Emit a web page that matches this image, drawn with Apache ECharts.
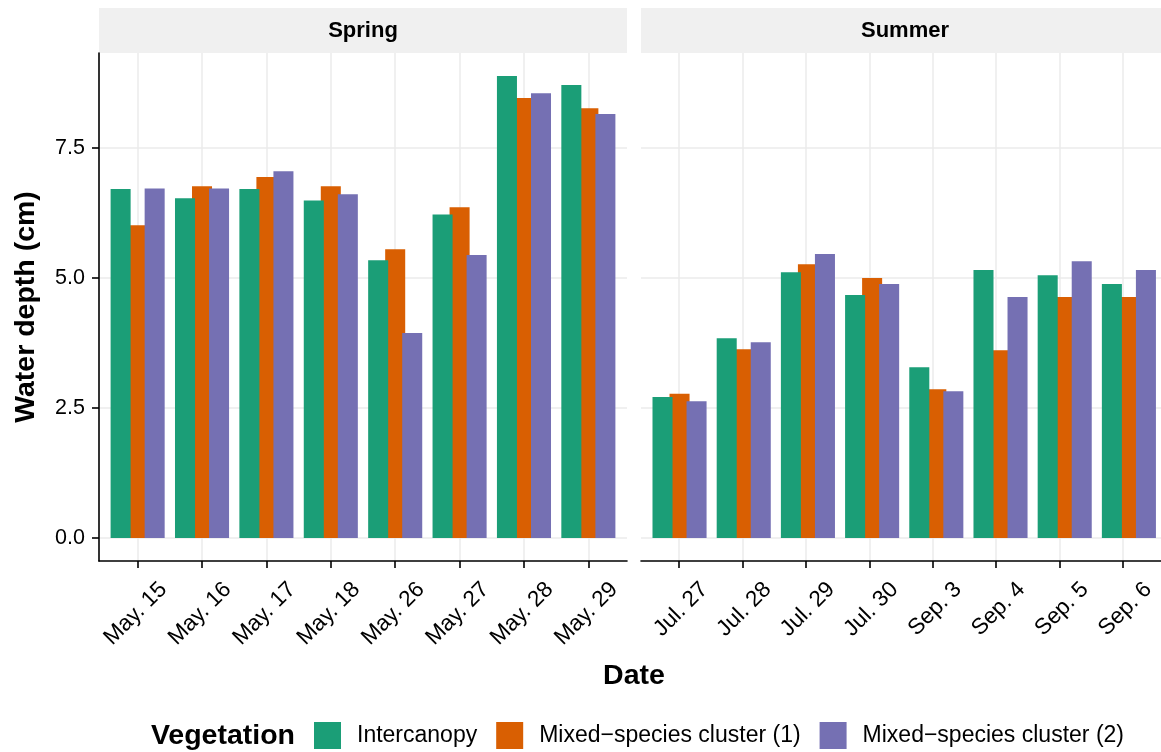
<!DOCTYPE html>
<html>
<head>
<meta charset="utf-8">
<script src="https://cdn.jsdelivr.net/npm/echarts@6/dist/echarts.min.js"></script>
<style>
  html, body { margin: 0; padding: 0; background: #ffffff; }
  #chart { width: 1161px; height: 752px; }
</style>
</head>
<body>
<div id="chart"></div>
<script>
// Sampling dates, one facet per season
const springDates = ['May. 15', 'May. 16', 'May. 17', 'May. 18', 'May. 26', 'May. 27', 'May. 28', 'May. 29'];
const summerDates = ['Jul. 27', 'Jul. 28', 'Jul. 29', 'Jul. 30', 'Sep. 3', 'Sep. 4', 'Sep. 5', 'Sep. 6'];

// Vegetation groups (legend order)
const vegetation = ['Intercanopy', 'Mixed\u2212species cluster (1)', 'Mixed\u2212species cluster (2)'];

// Water depth (cm)
const springIntercanopy = [6.71, 6.53, 6.71, 6.49, 5.34, 6.22, 8.88, 8.71];
const springCluster1    = [6.01, 6.76, 6.94, 6.76, 5.55, 6.36, 8.46, 8.26];
const springCluster2    = [6.72, 6.72, 7.05, 6.61, 3.94, 5.44, 8.55, 8.15];
const summerIntercanopy = [2.71, 3.84, 5.11, 4.67, 3.28, 5.15, 5.05, 4.88];
const summerCluster1    = [2.77, 3.63, 5.26, 5.00, 2.86, 3.61, 4.63, 4.63];
const summerCluster2    = [2.63, 3.76, 5.46, 4.88, 2.82, 4.63, 5.32, 5.15];

// Y axis tick values
const yTicks = [0, 2.5, 5, 7.5];

const colors = ['#1B9E77', '#D95F02', '#7570B3'];
const FONT = '"Liberation Sans", Arial, Helvetica, sans-serif';
const TEXT = '#000000';
const GRID_COLOR = '#EBEBEB';

// Panel geometry
const panelTop = 53;
const panelHeight = 508;
const panelWidth = 528;
const stripTop = 8;
const stripHeight = 45;
const panelLefts = [99, 641];
const expand = 0.6;              // discrete-axis padding, in category units
const labelShift = 0.40;         // rotated labels sit slightly right of their tick

const allValues = [].concat(springIntercanopy, springCluster1, springCluster2,
                            summerIntercanopy, summerCluster1, summerCluster2);
const dataMax = Math.max.apply(null, allValues);
const yMin = -dataMax * 0.05;
const yMax = dataMax * 1.05;

const facets = [
  { title: 'Spring', dates: springDates, values: [springIntercanopy, springCluster1, springCluster2] },
  { title: 'Summer', dates: summerDates, values: [summerIntercanopy, summerCluster1, summerCluster2] }
];

const grid = [], xAxis = [], yAxis = [], series = [], graphic = [];

facets.forEach(function (f, i) {
  const n = f.dates.length;
  const unit = panelWidth / (n - 1 + 2 * expand);
  const left = panelLefts[i];
  const positions = f.dates.map(function (_, k) { return k + 1; });
  const outer = grid.length;
  const inner = outer + 1;

  // outer grid: frame, ticks, labels and grid lines
  grid.push({ left: left, top: panelTop, width: panelWidth, height: panelHeight, containLabel: false });
  // inner grid: category bands for the bars
  grid.push({ left: left + unit * (expand - 0.5), top: panelTop, width: unit * n, height: panelHeight, containLabel: false });

  xAxis.push({
    type: 'value', gridIndex: outer, min: 1 - expand, max: n + expand,
    axisLine: { show: true, onZero: false, lineStyle: { color: TEXT, width: 1.6 } },
    axisTick: { show: true, length: 7, customValues: positions, lineStyle: { color: TEXT, width: 1.6 } },
    axisLabel: {
      show: true, customValues: positions.map(function (p) { return p + labelShift; }),
      rotate: 45, margin: 25, fontSize: 22.5, color: TEXT, fontFamily: FONT,
      formatter: function (v) { return f.dates[Math.round(v - labelShift) - 1]; }
    },
    splitLine: { show: true, lineStyle: { color: GRID_COLOR, width: 1.5 } }
  });
  xAxis.push({ type: 'category', gridIndex: inner, data: f.dates, show: false });

  const showY = i === 0;
  yAxis.push({
    type: 'value', gridIndex: outer, min: yMin, max: yMax,
    axisLine: { show: showY, onZero: false, lineStyle: { color: TEXT, width: 1.6 } },
    axisTick: { show: showY, length: 7, customValues: yTicks, lineStyle: { color: TEXT, width: 1.6 } },
    axisLabel: {
      show: showY, customValues: yTicks, margin: 14, fontSize: 21.5, color: TEXT, fontFamily: FONT,
      formatter: function (v) { return v.toFixed(1); }
    },
    splitLine: { show: true, lineStyle: { color: GRID_COLOR, width: 1.5 } }
  });
  yAxis.push({ type: 'value', gridIndex: inner, min: yMin, max: yMax, show: false });

  const barW = unit * 0.311;
  f.values.forEach(function (vals, k) {
    series.push({
      type: 'bar', name: vegetation[k], xAxisIndex: inner, yAxisIndex: inner,
      data: vals, barWidth: barW, barGap: '-15%',
      itemStyle: { color: colors[k] },
      z: k === 1 ? 1 : 2,
      silent: true, animation: false
    });
  });

  // facet strip
  graphic.push({
    type: 'rect', silent: true, z: -1,
    shape: { x: left, y: stripTop, width: panelWidth, height: stripHeight },
    style: { fill: '#F0F0F0' }
  });
  graphic.push({
    type: 'text', silent: true,
    x: left + panelWidth / 2, y: 31,
    style: { text: f.title, fontSize: 22, fontWeight: 'bold', fontFamily: FONT, fill: TEXT, align: 'center', verticalAlign: 'middle' }
  });
});

// axis titles and legend title
graphic.push({
  type: 'text', silent: true, x: 26, y: panelTop + panelHeight / 2, rotation: Math.PI / 2,
  style: { text: 'Water depth (cm)', fontSize: 28.5, fontWeight: 'bold', fontFamily: FONT, fill: TEXT, align: 'center', verticalAlign: 'middle' }
});
graphic.push({
  type: 'text', silent: true, x: (panelLefts[0] + panelLefts[1] + panelWidth) / 2, y: 676,
  style: { text: 'Date', fontSize: 28.5, fontWeight: 'bold', fontFamily: FONT, fill: TEXT, align: 'center', verticalAlign: 'middle' }
});
graphic.push({
  type: 'text', silent: true, x: 295, y: 736,
  style: { text: 'Vegetation', fontSize: 28.5, fontWeight: 'bold', fontFamily: FONT, fill: TEXT, align: 'right', verticalAlign: 'middle' }
});

const chart = echarts.init(document.getElementById('chart'), null, { renderer: 'canvas' });
chart.setOption({
  backgroundColor: '#ffffff',
  animation: false,
  textStyle: { fontFamily: FONT },
  grid: grid,
  xAxis: xAxis,
  yAxis: yAxis,
  series: series,
  legend: {
    left: 314, top: 722, orient: 'horizontal', padding: 0,
    itemWidth: 27, itemHeight: 27, itemGap: 19, icon: 'rect',
    selectedMode: false,
    data: vegetation,
    textStyle: { fontSize: 23, color: TEXT, fontFamily: FONT, padding: [4, 0, 0, 11] }
  },
  graphic: graphic
});
</script>
</body>
</html>
